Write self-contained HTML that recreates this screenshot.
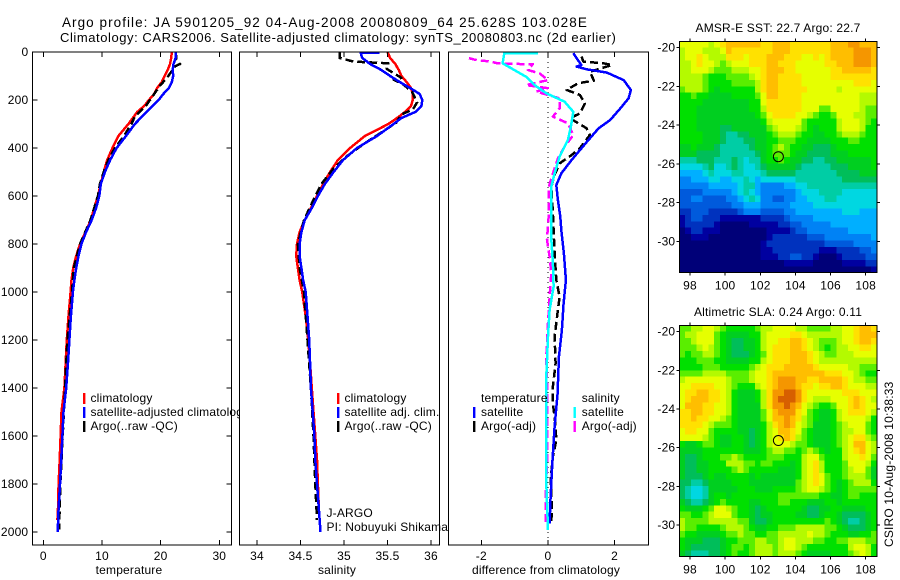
<!DOCTYPE html>
<html lang="en">
<head>
<meta charset="utf-8">
<title>Argo profile</title>
<style>
  html, body { margin: 0; padding: 0; background: #fff; width: 900px; height: 580px; overflow: hidden; }
  svg { display: block; }
  text { font-family: "Liberation Sans", Arial, sans-serif; font-size: 12px; letter-spacing: 0.18px; fill: #000; }
</style>
</head>
<body>
<svg id="chart" xmlns="http://www.w3.org/2000/svg" width="900" height="580" viewBox="0 0 900 580"></svg>
<script>
// ---- axis tick data ----
const depthTicks = [0,200,400,600,800,1000,1200,1400,1600,1800,2000];
const tempTicks = [0,10,20,30];
const salTicks = [34,34.5,35,35.5,36];
const diffTicks = [-2,0,2];
const lonTicks = [98,100,102,104,106,108];
const latTicks = [-20,-22,-24,-26,-28,-30];

// ---- temperature panel ----
const tempClimDepth = [0,25,50,75,100,125,150,175,200,225,250,300,350,400,450,500,550,600,650,700,750,800,850,900,950,1000,1100,1200,1300,1400,1500,1600,1700,1800,1900,1950];
const tempClimValues = [21.9,21.8,21.6,21.2,20.7,20.2,19.4,18.9,18.0,17.2,16.0,14.5,12.8,11.8,10.9,10.3,9.8,9.3,8.7,8.1,7.2,6.25,5.6,5.1,4.8,4.65,4.3,4.0,3.8,3.6,3.1,2.95,2.8,2.6,2.5,2.4];
const tempSatDepth = [0,25,50,75,100,125,150,175,200,225,250,300,350,400,450,500,550,600,650,700,750,800,850,900,950,1000,1100,1200,1300,1400,1500,1600,1700,1800,1900,2000];
const tempSatValues = [22.55,22.55,22.2,22.05,22.15,21.9,21.4,20.45,19.65,18.6,17.6,15.6,14.1,12.5,11.4,10.5,9.8,9.55,9.0,8.25,7.3,6.5,6.0,5.6,5.3,5.05,4.7,4.45,4.2,3.9,3.45,3.25,3.05,2.85,2.6,2.45];
const tempArgoDepth = [0,30,50,60,80,110,140,180,220,270,300,350,400,450,500,550,600,700,800,900,1000,1200,1400,1600,1800,1990];
const tempArgoValues = [22.55,22.7,23.3,22.4,21.9,21,19.9,18.75,17.6,15.6,15,13.75,12.2,11.1,10.3,9.65,9.3,8.05,6.25,5.2,4.9,4.1,3.7,3.3,2.9,2.7];

// ---- salinity panel ----
const salClimDepth = [0,25,50,75,100,125,150,175,200,225,250,275,300,350,400,450,500,550,600,650,700,750,800,850,900,950,1000,1100,1200,1300,1400,1500,1600,1700,1800,1900];
const salClimValues = [35.50,35.53,35.59,35.63,35.66,35.72,35.77,35.79,35.79,35.77,35.70,35.61,35.51,35.24,35.07,34.93,34.84,34.76,34.69,34.62,34.55,34.49,34.46,34.45,34.47,34.49,34.52,34.56,34.59,34.61,34.63,34.65,34.67,34.69,34.70,34.71];
const salSatDepth = [2,2,25,50,75,100,125,150,175,200,225,250,275,300,350,400,450,500,550,600,650,700,750,800,850,900,950,1000,1100,1200,1300,1400,1500,1600,1700,1800,1900,2000];
const salSatValues = [35.41,35.19,35.21,35.30,35.43,35.53,35.64,35.76,35.87,35.90,35.89,35.82,35.66,35.57,35.38,35.15,34.99,34.88,34.78,34.70,34.63,34.55,34.51,34.49,34.49,34.51,34.53,34.56,34.58,34.60,34.61,34.62,34.64,34.66,34.67,34.69,34.71,34.73];
const salArgoDepth = [0,25,40,47,70,108,115,135,165,210,240,260,295,330,385,435,485,550,600,700,800,900,1000,1200,1400,1600,1800,1950];
const salArgoValues = [34.95,34.95,35.11,35.51,35.49,35.66,35.57,35.68,35.78,35.84,35.79,35.66,35.6,35.45,35.22,35.03,34.88,34.74,34.67,34.54,34.47,34.49,34.54,34.58,34.62,34.65,34.67,34.69];

// ---- difference panel ----
const diffTempSatDepth = [5,54,61,72,86,117,158,193,235,283,318,374,450,506,554,617,686,742,839,950,1047,1158,1270,1422,1561,1714,1853,1964];
const diffTempSatValues = [0.76,1.0,0.86,1.16,1.77,2.27,2.49,2.42,2.17,1.87,1.52,1.17,0.71,0.4,0.25,0.3,0.37,0.4,0.48,0.54,0.47,0.42,0.33,0.29,0.2,0.13,0.08,0.05];
const diffTempArgoDepth = [19,40,47,54,82,119,130,158,179,214,256,276,318,346,401,429,464,512,561,672,742,839,950,1020,1075,1186,1297,1394,1464,1547,1617,1686,1783,1894,1964];
const diffTempArgoValues = [1.01,1.06,1.67,1.92,1.26,1.38,0.91,0.56,0.96,1.11,0.96,0.66,1.16,1.26,0.96,0.71,0.35,0.2,0.1,0.15,0.17,0.2,0.25,0.35,0.3,0.2,0.23,0.15,0.15,0.22,0.25,0.15,0.08,0.12,0.1];
const diffSalSatDepth = [5,5,47,75,103,138,172,207,249,311,367,436,506,561,780,880,978,1075,1186,1353,1575,1797,1992];
const diffSalSatValues = [-0.3,-1.31,-1.36,-1.01,-0.66,-0.4,-0.05,0.5,0.76,0.69,0.6,0.35,0.2,0.1,0.1,0.15,0.17,0.05,0,-0.05,-0.05,-0.05,0];
const diffSalArgoDepth = [26,33,40,47,50,50,75,89,117,138,151,165,193,235,269,297,346,394,443,506,561,672,780,811,853,922,978,1130,1270,1380,1575,1714,1853,1964];
const diffSalArgoValues = [-2.37,-2.17,-1.72,-1.52,-0.86,-0.45,-0.6,-0.25,0,-0.66,0,-0.35,0.35,0.35,0.15,0.6,0.76,0.5,0.3,0.15,0.03,0.03,-0.03,0,0.05,0.1,0.07,0,-0.05,-0.03,-0.03,-0.03,-0.07,-0.07];
const zeroLineDepth = [0,2054];
const zeroLineValues = [0,0];

// ---- map heatmaps: colour-scale level per cell, rows north to south ----
const sstGrid = [
[13,13,13,13,13,12,13,14,15,15,15,15,15,15,14,14,15,15,15,14,14,14,14,14,14,14,15,15,15,16,16,15,15,15],
[12,13,13,13,12,12,12,13,15,14,14,14,14,14,14,14,15,15,15,14,14,14,14,14,14,14,15,15,15,15,16,16,16,15],
[12,13,13,14,13,12,12,12,14,14,14,13,14,14,14,15,15,15,14,14,14,13,13,14,13,14,15,15,15,15,16,16,16,15],
[12,12,13,14,13,13,12,11,12,13,13,13,14,14,14,15,15,14,14,14,13,13,13,13,13,14,14,15,15,15,16,16,16,15],
[12,12,13,13,13,12,11,11,11,12,12,12,13,13,14,15,15,15,14,14,13,13,13,13,13,13,14,14,15,15,15,15,15,14],
[12,12,12,12,11,10,10,10,11,11,11,11,12,13,14,15,15,14,14,14,14,13,13,13,13,13,14,14,14,14,14,14,14,14],
[12,12,12,12,11,10,10,10,10,11,11,11,11,12,14,15,15,14,14,14,14,13,13,13,13,13,13,13,13,13,14,14,14,13],
[11,12,12,12,11,10,9,10,10,10,10,10,10,12,14,15,15,14,14,14,14,14,13,13,13,13,13,12,13,13,13,13,13,13],
[10,10,11,10,10,9,9,9,9,10,10,10,10,11,13,15,15,14,14,14,14,13,13,13,13,13,13,13,13,13,13,12,12,12],
[10,10,10,10,9,9,9,9,9,9,9,9,10,10,13,14,14,14,14,14,14,13,13,13,13,13,13,13,13,13,13,12,12,12],
[10,10,10,9,9,9,9,9,9,9,9,9,10,10,12,14,14,14,14,14,14,13,13,13,11,11,13,13,13,13,13,12,11,11],
[10,10,10,9,9,9,9,9,9,9,9,9,9,10,11,13,14,14,14,14,13,13,12,11,10,10,11,13,13,13,12,12,11,11],
[10,10,10,9,9,9,9,9,9,9,9,9,9,9,10,12,13,13,13,13,13,11,10,10,10,10,10,12,13,13,13,12,11,10],
[10,10,10,9,9,9,9,8,8,9,9,9,9,9,9,11,12,13,13,13,12,11,10,9,10,10,10,12,13,13,13,12,10,10],
[10,10,10,10,9,9,9,8,7,7,8,8,9,9,9,10,11,12,12,12,11,10,10,9,9,10,10,11,12,12,12,11,10,10],
[10,10,10,10,9,9,9,8,7,7,7,8,8,9,9,10,10,11,11,11,10,10,9,9,9,9,10,10,10,11,11,10,10,10],
[9,9,10,9,9,9,8,7,7,7,7,7,8,9,9,10,11,12,11,10,10,9,9,8,8,8,9,10,10,10,10,10,10,10],
[9,9,9,8,8,8,8,7,7,7,7,7,7,8,9,10,11,11,11,10,9,9,8,8,8,8,9,9,9,10,10,10,10,10],
[7,7,7,8,8,8,7,7,7,8,7,6,7,7,9,10,10,11,10,9,9,8,8,7,7,8,8,9,9,9,9,9,9,10],
[6,6,6,6,7,8,6,6,7,8,7,6,6,7,8,9,9,9,9,9,8,7,7,7,7,7,8,8,8,9,9,9,9,10],
[5,5,5,5,6,7,6,6,6,7,7,6,6,6,7,8,8,8,8,8,7,7,7,7,7,7,7,8,8,8,8,9,9,9],
[4,4,5,5,5,6,6,5,5,6,6,7,6,5,6,6,6,6,6,6,7,7,7,7,7,7,7,7,8,8,8,8,8,8],
[4,4,4,4,4,5,5,5,5,5,6,7,7,5,4,4,4,4,5,5,6,6,7,7,7,7,7,7,7,7,7,7,7,7],
[3,3,3,3,4,4,4,4,4,5,6,7,6,5,4,4,4,4,4,4,5,6,6,6,7,7,7,7,6,6,6,6,6,6],
[3,3,4,4,3,3,3,3,4,4,5,6,7,6,4,4,3,3,4,4,5,5,6,6,6,7,7,6,6,6,6,6,6,6],
[3,3,3,3,3,3,3,3,3,4,4,5,5,5,4,4,4,4,4,5,5,5,5,6,6,6,6,6,6,6,6,6,6,6],
[2,2,3,3,3,2,2,2,2,2,3,4,4,4,3,3,3,3,4,4,5,5,5,5,5,5,5,5,6,6,6,5,5,5],
[1,2,3,3,2,2,2,1,1,1,1,1,1,1,2,2,2,2,3,4,4,4,4,5,5,5,5,5,5,5,5,5,5,5],
[1,2,2,2,2,2,1,0,0,0,0,0,1,1,1,1,1,2,2,3,3,4,4,4,4,4,5,5,5,5,5,5,5,5],
[0,1,2,2,1,1,1,0,0,0,0,0,0,0,0,1,1,1,1,2,3,3,4,4,4,4,4,4,4,5,5,5,5,5],
[0,0,1,1,1,0,0,0,0,0,0,0,0,0,0,1,2,2,2,2,2,2,3,3,3,4,4,4,4,4,4,4,4,5],
[0,0,0,0,0,0,0,0,0,0,0,0,0,0,1,2,2,2,2,2,2,2,2,2,2,3,3,3,3,3,4,4,4,4],
[0,0,0,0,0,0,0,0,0,0,0,0,0,0,1,1,2,2,2,2,2,2,2,2,1,1,1,2,2,2,2,3,3,4],
[0,0,0,0,0,0,0,0,0,0,0,0,0,0,1,1,1,2,2,3,3,2,2,1,0,0,0,1,2,2,2,2,3,3],
[0,0,0,0,0,0,0,0,0,0,0,0,0,0,0,0,0,0,1,1,1,1,1,0,0,0,0,0,1,1,1,1,2,2],
[0,0,0,0,0,0,0,0,0,0,0,0,0,0,0,0,0,0,0,0,0,0,0,0,0,0,0,0,0,0,0,0,0,1]
];
const slaGrid = [
[11,11,12,12,13,13,12,11,10,10,10,10,10,11,12,12,13,13,13,13,12,12,11,11,11,11,12,12,13,13,14,15,15,14],
[11,12,12,13,13,13,11,10,9,9,9,9,10,10,12,13,13,13,13,14,14,13,12,12,12,12,12,12,13,13,14,15,15,15],
[11,11,12,13,13,13,11,10,9,8,8,9,9,10,12,13,13,14,14,15,15,14,13,12,11,11,11,12,13,13,14,15,15,14],
[11,11,11,12,13,12,11,10,9,8,8,9,9,10,12,13,14,14,14,15,15,14,13,12,11,10,11,12,12,13,13,14,14,13],
[11,10,11,11,12,12,11,10,9,8,8,8,9,10,11,13,14,14,14,15,15,15,14,13,12,11,11,12,12,12,13,13,13,13],
[10,10,10,11,11,11,10,10,9,9,9,9,10,10,12,13,14,14,14,15,15,15,14,13,12,12,12,12,12,12,12,12,12,12],
[10,10,10,10,11,11,11,10,10,10,10,10,11,12,13,14,14,14,15,15,15,15,15,14,13,13,13,13,13,12,12,11,11,11],
[11,11,11,11,12,12,12,12,11,11,11,11,12,13,13,14,15,15,15,15,15,15,15,15,15,14,14,14,13,13,12,11,10,10],
[12,13,13,13,13,13,13,13,12,11,11,11,12,13,13,14,15,16,16,16,15,15,14,14,15,15,15,15,14,13,12,12,11,11],
[13,13,14,14,14,14,13,13,12,11,10,10,10,12,13,14,15,16,16,16,15,14,14,13,14,14,15,15,14,13,13,13,12,12],
[13,14,14,15,15,14,14,13,12,10,9,9,9,10,12,14,16,16,17,17,16,14,13,13,13,13,13,13,14,14,14,13,13,13],
[13,14,15,15,15,14,14,13,12,10,9,9,9,10,12,14,16,17,17,17,16,14,13,12,12,12,13,13,13,14,15,14,13,12],
[13,15,15,15,14,14,13,13,12,10,9,9,9,9,12,14,16,16,17,16,15,13,12,11,10,10,11,13,13,14,15,14,13,13],
[14,14,15,15,14,14,13,13,12,10,9,9,9,9,11,13,15,16,16,16,14,13,11,10,9,9,10,12,13,14,14,14,13,12],
[14,14,15,14,14,13,13,12,11,10,9,9,9,9,11,13,15,15,16,15,14,12,11,10,9,9,10,12,13,13,13,13,12,10],
[14,14,14,14,13,12,11,11,11,10,9,9,9,9,10,12,14,15,16,15,13,12,11,9,9,9,10,11,12,13,13,13,11,10],
[13,14,14,13,13,11,10,10,10,10,9,9,8,9,10,12,13,15,15,14,13,11,10,9,9,9,10,11,12,12,13,13,11,10],
[13,13,13,13,12,11,10,9,9,10,10,9,8,9,10,12,13,14,15,14,12,11,10,9,9,9,10,11,12,13,14,14,12,11],
[10,9,9,10,11,11,10,9,9,10,10,9,8,9,10,12,13,13,13,12,11,11,10,9,9,9,10,11,12,13,15,15,13,12],
[9,9,9,9,10,10,10,10,10,10,10,9,9,9,10,11,12,12,11,11,10,11,12,11,10,9,10,10,12,13,14,15,13,12],
[9,8,8,9,10,10,10,11,11,12,11,10,10,10,10,11,11,11,10,10,10,12,13,13,11,10,10,10,12,13,13,14,13,11],
[9,8,8,9,9,10,10,10,12,12,12,11,11,10,11,11,10,10,10,9,10,12,13,14,12,10,10,10,11,13,13,13,12,10],
[9,8,8,9,9,10,10,10,10,11,12,11,10,10,10,10,10,9,9,9,10,12,13,14,12,10,10,10,11,12,13,13,11,9],
[9,8,8,8,9,10,9,9,10,10,10,10,9,10,9,9,9,9,9,9,10,12,13,14,13,11,10,10,11,12,12,12,11,9],
[8,8,7,7,8,9,9,9,9,10,10,10,9,9,9,9,9,9,9,9,11,12,13,14,13,11,10,9,10,11,12,12,12,10],
[8,7,6,6,7,9,9,9,9,9,10,10,10,9,9,9,10,10,10,10,11,12,13,13,12,11,10,9,10,11,11,11,11,11],
[8,7,6,6,7,9,10,10,9,10,10,10,10,10,10,10,10,11,11,11,11,11,11,11,10,10,9,9,10,11,11,10,10,10],
[9,8,7,7,8,9,10,11,10,10,10,10,9,9,10,10,10,11,11,10,10,10,9,9,9,10,10,9,10,10,10,10,10,10],
[10,9,9,9,10,11,13,13,12,11,10,10,9,8,9,10,10,10,10,10,10,9,8,8,9,9,10,10,9,9,9,9,10,10],
[11,11,10,10,11,12,13,13,13,11,10,10,9,8,9,9,10,10,10,10,9,9,8,8,9,10,10,9,8,8,8,8,9,10],
[12,11,11,11,11,12,12,12,12,12,11,11,9,8,8,9,10,10,10,10,10,10,10,10,10,11,10,9,8,7,7,8,9,10],
[12,11,11,10,10,10,10,11,12,12,12,11,10,9,9,10,10,11,11,11,12,12,12,12,12,11,11,10,9,8,8,8,9,10],
[11,10,10,9,9,9,9,10,11,11,12,11,11,10,10,11,11,12,12,12,12,12,13,12,12,11,10,10,10,9,9,10,10,11],
[10,9,9,9,8,8,8,9,10,10,11,11,11,12,12,11,11,12,13,13,12,12,12,11,11,10,10,11,11,12,12,12,11,11],
[10,9,8,8,8,8,8,9,10,11,11,10,11,12,12,12,11,12,13,13,12,11,10,10,10,10,10,10,10,12,13,13,12,10],
[9,8,7,7,7,8,8,9,10,11,10,10,11,12,12,12,11,12,12,12,11,10,9,9,9,9,10,10,10,11,12,13,12,10]
];
const floatLon = [103.03];
const floatLat = [-25.63];

// ---- rendering ----
const svg = document.getElementById('chart');
const NS = 'http://www.w3.org/2000/svg';
const colourStops = ['#000078','#0000a0','#0032be','#005adc','#0082f5','#00afff','#00d7e1','#00cda5','#00be5a','#00cf20','#00e000','#5aee00','#b4fa00','#e6ff00','#ffe100','#ffbe00','#f59600','#d75f00'];

function node(parent, tag, attrs) {
  const el = document.createElementNS(NS, tag);
  for (const k in attrs) el.setAttribute(k, attrs[k]);
  parent.appendChild(el);
  return el;
}
function label(parent, name, str, x, y, anchor, extra) {
  const el = node(parent, 'text', Object.assign({x: x, y: y, 'text-anchor': anchor || 'start'}, extra || {}));
  el.textContent = str;
  
  
  return el;
}
function linear(d0, p0, d1, p1) { return v => p0 + (v - d0) * (p1 - p0) / (d1 - d0); }

const depthY = linear(0, 52, 2000, 532);
const PANEL_TOP = 52, PANEL_BOTTOM = 545;

function profilePanel(name, left, right, xScale, xTicks, xTitle, xTitleX, yLabels, yTicks) {
  const g = node(svg, 'g', {});
  
  
  const bg = node(g, 'rect', {x: left, y: PANEL_TOP, width: right - left, height: PANEL_BOTTOM - PANEL_TOP, fill: '#fff'});
  
  
  const clipId = name + '-clip';
  const clip = node(g, 'clipPath', {id: clipId});
  node(clip, 'rect', {x: left, y: PANEL_TOP, width: right - left, height: PANEL_BOTTOM - PANEL_TOP});
  const inner = node(g, 'g', {'clip-path': 'url(#' + clipId + ')'});
  const axes = node(g, 'g', {'shape-rendering': 'crispEdges', stroke: '#000', 'stroke-width': 1});
  const frame = node(axes, 'rect', {x: left, y: PANEL_TOP, width: right - left, height: PANEL_BOTTOM - PANEL_TOP, fill: 'none'});
  
  
  xTicks.forEach(t => {
    const px = xScale(t);
    const t1 = node(axes, 'line', {x1: px, x2: px, y1: PANEL_TOP, y2: PANEL_TOP + 5});
    
    
    const t2 = node(axes, 'line', {x1: px, x2: px, y1: PANEL_BOTTOM, y2: PANEL_BOTTOM - 5});
    
    
    label(g, 'x-tick-label', String(t), px, 560, 'middle');
  });
  if (yTicks) {
    depthTicks.forEach(d => {
      const py = depthY(d);
      const t1 = node(axes, 'line', {x1: left, x2: left + 5, y1: py, y2: py});
      
      
      const t2 = node(axes, 'line', {x1: right, x2: right - 5, y1: py, y2: py});
      
      
      if (yLabels) label(g, 'y-tick-label', String(d), left - 4, py + 4, 'end');
    });
  }
  label(g, 'x-axis-title', xTitle, xTitleX, 574, 'middle');
  return {g: g, inner: inner, xScale: xScale};
}
function series(panel, name, depth, values, colour, width, dash) {
  const pts = depth.map((d, i) => panel.xScale(values[i]).toFixed(1) + ',' + depthY(d).toFixed(1)).join(' ');
  const attrs = {points: pts, fill: 'none', stroke: colour, 'stroke-width': width, 'shape-rendering': 'crispEdges', 'stroke-linejoin': 'round'};
  if (dash) attrs['stroke-dasharray'] = dash;
  const el = node(panel.inner, 'polyline', attrs);
  
  
}
function legendMark(parent, name, x, y, colour) {
  const el = node(parent, 'rect', {x: x, y: y, width: 2.4, height: 11, fill: colour});
  
  
}

// panels are painted left to right, so each one's white background trims overflowing text from the previous panel
const tempPanel = profilePanel('temperature-panel', 32.3, 231.3, linear(0, 43.3, 30, 219.3), tempTicks, 'temperature', 129, true, true);
series(tempPanel, 'temperature-climatology-line', tempClimDepth, tempClimValues, '#ff0000', 2.5);
series(tempPanel, 'temperature-argo-line', tempArgoDepth, tempArgoValues, '#000000', 2.5, '8 4');
series(tempPanel, 'temperature-satellite-line', tempSatDepth, tempSatValues, '#0000ff', 2.5);
legendMark(tempPanel.g, 'legend-mark-climatology', 83, 393, '#ff0000');
label(tempPanel.g, 'legend-climatology', 'climatology', 90.5, 402);
legendMark(tempPanel.g, 'legend-mark-satellite-adjusted', 83, 407, '#0000ff');
label(tempPanel.g, 'legend-satellite-adjusted', 'satellite-adjusted climatology', 90.5, 416);
legendMark(tempPanel.g, 'legend-mark-argo', 83, 421, '#000000');
label(tempPanel.g, 'legend-argo', 'Argo(..raw -QC)', 90.5, 430);

const salPanel = profilePanel('salinity-panel', 239.5, 439.3, linear(34, 257, 36, 431), salTicks, 'salinity', 337, false, false);
series(salPanel, 'salinity-climatology-line', salClimDepth, salClimValues, '#ff0000', 2.5);
series(salPanel, 'salinity-argo-line', salArgoDepth, salArgoValues, '#000000', 2.5, '8 4');
series(salPanel, 'salinity-satellite-line', salSatDepth, salSatValues, '#0000ff', 2.5);
legendMark(salPanel.g, 'legend-mark-climatology', 337, 393, '#ff0000');
label(salPanel.g, 'legend-climatology', 'climatology', 344.5, 402);
legendMark(salPanel.g, 'legend-mark-satellite-adjusted', 337, 407, '#0000ff');
label(salPanel.g, 'legend-satellite-adjusted', 'satellite adj. clim.', 344.5, 416);
legendMark(salPanel.g, 'legend-mark-argo', 337, 421, '#000000');
label(salPanel.g, 'legend-argo', 'Argo(..raw -QC)', 344.5, 430);
label(salPanel.g, 'program-name', 'J-ARGO', 326.5, 517);
label(salPanel.g, 'principal-investigator', 'PI: Nobuyuki Shikama', 326.5, 531);

const diffPanel = profilePanel('difference-panel', 448.3, 648.5, linear(-2, 481.3, 2, 614.6), diffTicks, 'difference from climatology', 546, false, false);
const zero = node(diffPanel.inner, 'polyline', {points: zeroLineDepth.map((d, i) => diffPanel.xScale(zeroLineValues[i]) + ',' + depthY(d)).join(' '), fill: 'none', stroke: '#000', 'stroke-width': 1, 'stroke-dasharray': '1 4', 'shape-rendering': 'crispEdges'});


series(diffPanel, 'difference-temperature-argo-line', diffTempArgoDepth, diffTempArgoValues, '#000000', 2.5, '8 4');
series(diffPanel, 'difference-temperature-satellite-line', diffTempSatDepth, diffTempSatValues, '#0000ff', 2.5);
series(diffPanel, 'difference-salinity-argo-line', diffSalArgoDepth, diffSalArgoValues, '#ff00ff', 2.5, '8 4');
series(diffPanel, 'difference-salinity-satellite-line', diffSalSatDepth, diffSalSatValues, '#00ffff', 2.5);
label(diffPanel.g, 'legend-temperature-heading', 'temperature', 481, 402);
legendMark(diffPanel.g, 'legend-mark-temperature-satellite', 473, 407, '#0000ff');
label(diffPanel.g, 'legend-temperature-satellite', 'satellite', 481, 416);
legendMark(diffPanel.g, 'legend-mark-temperature-argo', 473, 421, '#000000');
label(diffPanel.g, 'legend-temperature-argo', 'Argo(-adj)', 481, 430);
label(diffPanel.g, 'legend-salinity-heading', 'salinity', 581.7, 402);
legendMark(diffPanel.g, 'legend-mark-salinity-satellite', 573.5, 407, '#00ffff');
label(diffPanel.g, 'legend-salinity-satellite', 'satellite', 581.7, 416);
legendMark(diffPanel.g, 'legend-mark-salinity-argo', 573.5, 421, '#ff00ff');
label(diffPanel.g, 'legend-salinity-argo', 'Argo(-adj)', 581.7, 430);

// map panels
function mapPanel(name, grid, top, bottom, lat20Y, lat30Y, title, titleY) {
  const LEFT = 679.3, RIGHT = 877;
  const lonX = linear(98, 690, 108, 865.7);
  const latY = linear(-20, lat20Y, -30, lat30Y);
  const rowCount = grid.length;
  const colCount = grid[0].length;
  const cellW = (RIGHT - LEFT) / colCount;
  const cellH = (bottom - top) / rowCount;
  const g = node(svg, 'g', {});
  
  
  const cells = node(g, 'g', {'shape-rendering': 'crispEdges'});
  grid.forEach((row, r) => row.forEach((v, c) => {
    const cell = node(cells, 'rect', {x: (LEFT + c * cellW).toFixed(2), y: (top + r * cellH).toFixed(2), width: (cellW + 0.4).toFixed(2), height: (cellH + 0.4).toFixed(2), fill: colourStops[Math.max(0, Math.min(colourStops.length - 1, Math.round(v)))]});
    
    
  }));
  const axes = node(g, 'g', {'shape-rendering': 'crispEdges', stroke: '#000', 'stroke-width': 1});
  const frame = node(axes, 'rect', {x: LEFT, y: top, width: RIGHT - LEFT, height: bottom - top, fill: 'none'});
  
  
  lonTicks.forEach(t => {
    const px = lonX(t);
    const t1 = node(axes, 'line', {x1: px, x2: px, y1: top, y2: top - 3});
    
    
    const t2 = node(axes, 'line', {x1: px, x2: px, y1: bottom, y2: bottom + 3});
    
    
    label(g, 'lon-tick-label', String(t), px, bottom + 17, 'middle');
  });
  latTicks.forEach(t => {
    const py = latY(t);
    const t1 = node(axes, 'line', {x1: LEFT, x2: LEFT - 3, y1: py, y2: py});
    
    
    const t2 = node(axes, 'line', {x1: RIGHT, x2: RIGHT + 3, y1: py, y2: py});
    
    
    label(g, 'lat-tick-label', String(t), LEFT - 4, py + 4, 'end');
  });
  const marker = node(g, 'circle', {cx: lonX(floatLon[0]), cy: latY(floatLat[0]), r: 5, fill: 'none', stroke: '#000', 'stroke-width': 1});
  
  
  label(g, 'map-title', title, 778, titleY, 'middle');
}
mapPanel('sst-map', sstGrid, 41.3, 272.7, 47.7, 241.3, 'AMSR-E SST: 22.7 Argo: 22.7', 32);
mapPanel('sla-map', slaGrid, 325.3, 556.7, 331.7, 525, 'Altimetric SLA: 0.24 Argo: 0.11', 316);

label(svg, 'figure-title-line-1', 'Argo profile: JA 5901205_92 04-Aug-2008 20080809_64 25.628S 103.028E', 62, 27, 'start', {textLength: 525, lengthAdjust: 'spacing', style: 'font-size:13.5px'});
label(svg, 'figure-title-line-2', 'Climatology: CARS2006. Satellite-adjusted climatology: synTS_20080803.nc (2d earlier)', 60, 42, 'start', {textLength: 556, lengthAdjust: 'spacing', style: 'font-size:13px'});
label(svg, 'creation-stamp', 'CSIRO 10-Aug-2008 10:38:33', 0, 0, 'start', {transform: 'translate(893 547) rotate(-90)'});
</script>
</body>
</html>
